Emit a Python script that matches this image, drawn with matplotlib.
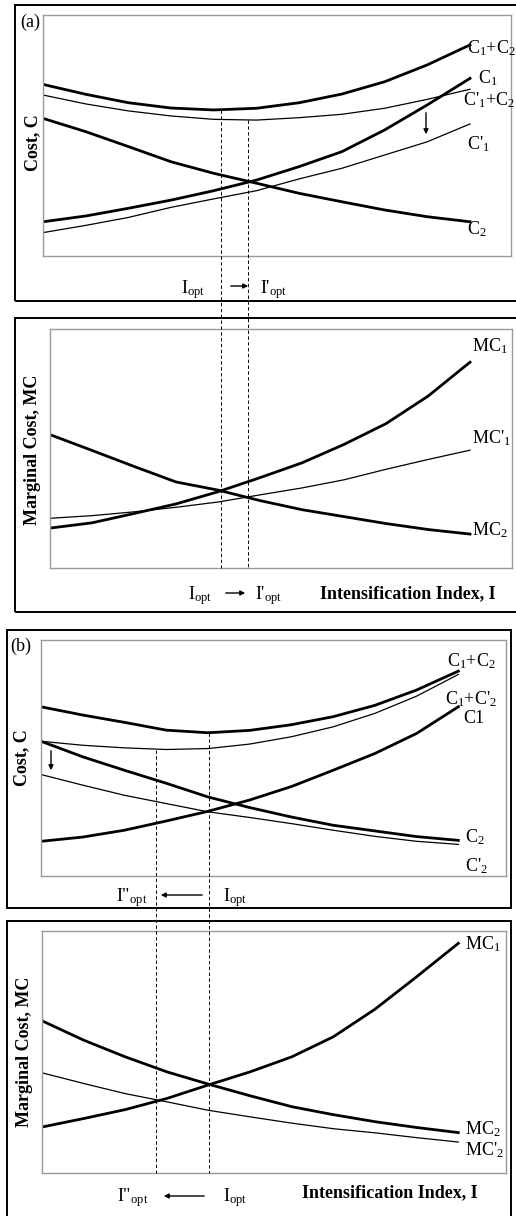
import numpy as np
import matplotlib
matplotlib.use("Agg")
import matplotlib.pyplot as plt
from matplotlib.patches import Rectangle
from matplotlib.lines import Line2D

plt.rcParams['font.family'] = ['Liberation Serif', 'DejaVu Serif']
plt.rcParams['mathtext.fontset'] = 'custom'
plt.rcParams['mathtext.rm'] = 'Liberation Serif'
plt.rcParams['mathtext.it'] = 'Liberation Serif:italic'
plt.rcParams['mathtext.bf'] = 'Liberation Serif:bold'

# ---------------- data (intensification index 0..10, cost in arbitrary units 0..100) -------------
I_grid = [0, 1, 2, 3, 4, 5, 6, 7, 8, 9, 10]

# panel (a) - total cost
a_C1_plus_C2  = [71.2, 67.1, 63.6, 61.4, 60.6, 61.3, 63.6, 67.2, 72.3, 79.3, 87.6]
a_C1p_plus_C2 = [66.8, 63.1, 60.2, 58.1, 56.7, 56.4, 57.4, 58.8, 61.3, 65.0, 69.2]
a_C2          = [57.1, 51.6, 45.4, 39.1, 34.3, 30.2, 26.0, 22.5, 19.1, 16.3, 14.2]
a_C1          = [14.2, 16.6, 19.8, 23.2, 27.1, 31.5, 37.1, 43.3, 52.3, 62.7, 73.7]
a_C1p         = [9.7, 12.7, 16.0, 20.2, 23.7, 27.1, 32.0, 36.4, 41.9, 47.4, 54.8]
a_I_opt, a_I_opt_p = 4.16, 4.79

# panel (a) - marginal cost
a_MC1  = [16.7, 18.9, 22.8, 26.8, 31.9, 37.8, 44.0, 51.7, 60.4, 71.9, 86.1]
a_MC1p = [20.8, 21.9, 23.5, 25.4, 27.6, 30.6, 33.5, 36.9, 41.3, 45.4, 49.3]
a_MC2  = [55.8, 49.2, 42.5, 36.0, 32.6, 28.2, 24.4, 21.5, 18.6, 16.1, 14.2]

# panel (b) - total cost
b_C1_plus_C2  = [71.7, 68.2, 65.1, 61.8, 60.7, 61.7, 64.1, 67.5, 72.3, 78.8, 86.8]
b_C1_plus_C2p = [57.1, 55.4, 54.3, 53.6, 54.0, 55.9, 59.0, 63.2, 68.9, 76.2, 85.4]
b_C1          = [14.7, 16.5, 19.4, 23.3, 27.4, 32.2, 37.9, 44.8, 51.9, 60.4, 71.7]
b_C2          = [57.1, 50.5, 44.8, 39.3, 33.5, 29.0, 25.0, 21.5, 19.1, 16.7, 15.1]
b_C2p         = [43.0, 38.5, 34.2, 30.7, 27.2, 24.8, 22.2, 19.4, 16.8, 14.7, 13.4]
b_I_opt2, b_I_opt = 2.76, 4.03

# panel (b) - marginal cost
b_MC1  = [19.0, 22.5, 26.2, 30.8, 36.4, 41.8, 48.0, 56.3, 67.7, 81.1, 94.9]
b_MC2  = [62.9, 54.9, 48.0, 41.8, 36.7, 31.9, 27.4, 24.1, 21.2, 18.8, 16.7]
b_MC2p = [41.4, 37.0, 32.8, 29.4, 25.9, 23.2, 20.6, 18.3, 16.6, 14.6, 12.8]

# ---------------- layout ----------------
W, H = 516, 1216
fig = plt.figure(figsize=(W / 100, H / 100), dpi=100)

def fx(x):
    return x / W

def fy(y):
    return 1 - y / H

THICK, THIN = 2.0, 0.9
FS = 13

def frame(x0, y0, x1, y1):
    fig.patches.append(Rectangle((fx(x0), fy(y1)), (x1 - x0) / W, (y1 - y0) / H,
                                 transform=fig.transFigure, fill=False,
                                 lw=1.4, ec='black', clip_on=False))

def make_axes(x0, y0, x1, y1, xmax):
    ax = fig.add_axes([fx(x0), fy(y1), (x1 - x0) / W, (y1 - y0) / H])
    ax.set_xticks([])
    ax.set_yticks([])
    for s in ax.spines.values():
        s.set_color('#9a9a9a')
        s.set_linewidth(1.0)
    ax.set_xlim(0, xmax)
    ax.set_ylim(0, 100)
    ax.patch.set_alpha(0)
    return ax

def txt(x, y, s, **kw):
    kw.setdefault('fontsize', FS)
    kw.setdefault('ha', 'left')
    kw.setdefault('va', 'baseline')
    fig.text(fx(x), fy(y), s, **kw)

def harrow(x0, x1, y):
    fig.patches.append(matplotlib.patches.FancyArrowPatch(
        (fx(x0), fy(y)), (fx(x1), fy(y)), transform=fig.transFigure,
        arrowstyle='-|>', mutation_scale=7, lw=1.0, color='black'))

def vdash(ax_top, ax_bot, xval, yval):
    inv = fig.transFigure.inverted()
    p0 = inv.transform(ax_top.transData.transform((xval, yval)))
    p1 = inv.transform(ax_bot.transAxes.transform((0, 0)))
    fig.lines.append(Line2D([p0[0], p0[0]], [p0[1], p1[1]], transform=fig.transFigure,
                            color='black', lw=0.7, dashes=(3.5, 2.5)))

# outer frames
frame(15, 5, 525, 301)
frame(15, 318, 525, 612)
frame(7, 630, 511, 908)
frame(7, 921, 511, 1225)

# ---- panel (a) top ----
ax1 = make_axes(43, 15, 511, 256, 10 * 468 / 427)
ax1.plot(I_grid, a_C1_plus_C2, color='black', lw=THICK)
ax1.plot(I_grid, a_C1p_plus_C2, color='black', lw=THIN)
ax1.plot(I_grid, a_C2, color='black', lw=THICK)
ax1.plot(I_grid, a_C1, color='black', lw=THICK)
ax1.plot(I_grid, a_C1p, color='black', lw=THIN)

# ---- panel (a) bottom ----
ax2 = make_axes(50, 329, 512, 568, 10 * 462 / 420)
ax2.plot(I_grid, a_MC1, color='black', lw=THICK)
ax2.plot(I_grid, a_MC1p, color='black', lw=THIN)
ax2.plot(I_grid, a_MC2, color='black', lw=THICK)

# ---- panel (b) top ----
ax3 = make_axes(41, 640, 506, 876, 10 * 465 / 417.3)
ax3.plot(I_grid, b_C1_plus_C2, color='black', lw=THICK)
ax3.plot(I_grid, b_C1_plus_C2p, color='black', lw=THIN)
ax3.plot(I_grid, b_C1, color='black', lw=THICK)
ax3.plot(I_grid, b_C2, color='black', lw=THICK)
ax3.plot(I_grid, b_C2p, color='black', lw=THIN)

# ---- panel (b) bottom ----
ax4 = make_axes(42, 931, 506, 1173, 10 * 464 / 416.3)
ax4.plot(I_grid, b_MC1, color='black', lw=THICK)
ax4.plot(I_grid, b_MC2, color='black', lw=THICK)
ax4.plot(I_grid, b_MC2p, color='black', lw=THIN)

# dashed guide lines
vdash(ax1, ax2, a_I_opt, min(a_C1_plus_C2))
vdash(ax1, ax2, a_I_opt_p, min(a_C1p_plus_C2))
vdash(ax3, ax4, b_I_opt2, min(b_C1_plus_C2p))
vdash(ax3, ax4, b_I_opt, min(b_C1_plus_C2))

# vertical shift arrows
fig.patches.append(matplotlib.patches.FancyArrowPatch(
    (fx(426), fy(110)), (fx(426), fy(137)), transform=fig.transFigure,
    arrowstyle='-|>', mutation_scale=7, lw=1.0, color='black'))
fig.patches.append(matplotlib.patches.FancyArrowPatch(
    (fx(51), fy(748)), (fx(51), fy(773)), transform=fig.transFigure,
    arrowstyle='-|>', mutation_scale=7, lw=1.0, color='black'))

# panel letters
txt(20, 22, '(a)', va='center')
txt(10, 646, '(b)', va='center')

# y labels
txt(33, 143, 'Cost, C', rotation=90, ha='center', va='center', fontweight='bold')
txt(33, 450, 'Marginal Cost, MC', rotation=90, ha='center', va='center', fontweight='bold')
txt(22, 758, 'Cost, C', rotation=90, ha='center', va='center', fontweight='bold')
txt(25, 1052, 'Marginal Cost, MC', rotation=90, ha='center', va='center', fontweight='bold')

# x labels
txt(320, 598, 'Intensification Index, I', fontweight='bold')
txt(302, 1197, 'Intensification Index, I', fontweight='bold')

# curve labels, panel (a)
txt(467, 53, r'C$_1$+C$_2$')
txt(478, 83, r'C$_1$')
txt(463, 105, r"C'$_1$+C$_2$")
txt(467, 149, r"C'$_1$")
txt(467, 234, r'C$_2$')
txt(472, 351, r'MC$_1$')
txt(472, 443, r"MC'$_1$")
txt(472, 535, r'MC$_2$')

# curve labels, panel (b)
txt(447, 666, r'C$_1$+C$_2$')
txt(445, 704, r"C$_1$+C'$_2$")
txt(463, 723, 'C1')
txt(465, 842, r'C$_2$')
txt(465, 871, r"C'$_2$")
txt(465, 949, r'MC$_1$')
txt(465, 1134, r'MC$_2$')
txt(465, 1155, r"MC'$_2$")

# optimum labels
opt = r'$_{\mathrm{opt}}$'
txt(181, 293, 'I' + opt)
harrow(228, 251, 286)
txt(260, 293, "I'" + opt)

txt(188, 599, 'I' + opt)
harrow(223, 248, 593)
txt(255, 599, "I'" + opt)

txt(116, 901, 'I"' + opt)
harrow(205, 158, 895)
txt(223, 901, 'I' + opt)

txt(117, 1201, 'I"' + opt)
harrow(207, 161, 1196)
txt(223, 1201, 'I' + opt)

fig.savefig('out.png', dpi=100)
